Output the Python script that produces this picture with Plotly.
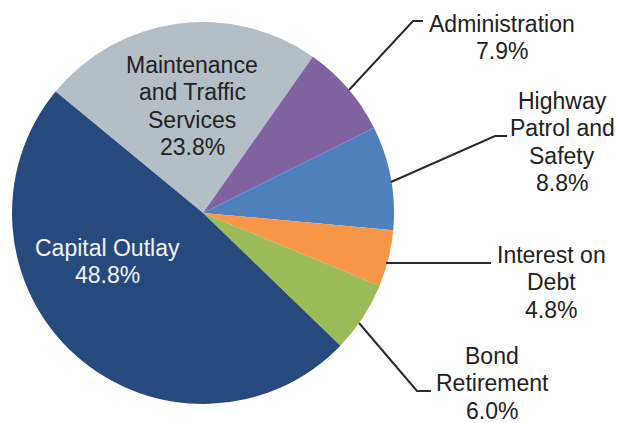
import plotly.graph_objects as go

W, H = 620, 423

categories = ["Maintenance and Traffic Services", "Administration", "Highway Patrol and Safety",
              "Interest on Debt", "Bond Retirement", "Capital Outlay"]
values = [23.8, 7.9, 8.8, 4.8, 6.0, 48.8]
label_lines = [
    ["Maintenance", "and Traffic", "Services", "23.8%"],
    ["Administration", "7.9%"],
    ["Highway", "Patrol and", "Safety", "8.8%"],
    ["Interest on", "Debt", "4.8%"],
    ["Bond", "Retirement", "6.0%"],
    ["Capital Outlay", "48.8%"],
]
colors = ["#B4BEC7", "#8064A2", "#4F81BD", "#F79646", "#9BBB59", "#264A7E"]
text_colors = ["#222222", "#222222", "#222222", "#222222", "#222222", "#F2F2F2"]

# label block layout: (center x px, first baseline px)
label_pos = [(192, 73), (502, 32), (562, 109), (551, 263), (492, 364), (107, 256)]
LINE_H = 27.3
FS = 23

# leader lines (pixel paths)
leaders = [
    None,
    [(349, 90), (413, 21), (423, 21)],
    [(391, 182), (495, 136), (507, 136)],
    [(386, 263), (491, 263)],
    [(359, 323), (417, 391), (431, 391)],
    None,
]

def px(x, y):
    return x / W, 1 - y / H

fig = go.Figure(go.Pie(
    labels=categories, values=values, sort=False, direction="clockwise",
    rotation=-50.5, marker=dict(colors=colors, line=dict(width=0)),
    textinfo="none", hoverinfo="label+percent",
    domain=dict(x=[12 / W, 394 / W], y=[1 - 404 / H, 1 - 22 / H]),
    showlegend=False,
))

annotations = []
for lines, (cx, by), tc in zip(label_lines, label_pos, text_colors):
    for i, t in enumerate(lines):
        x, y = px(cx, by + i * LINE_H - 8)
        annotations.append(dict(
            x=x, y=y, xref="paper", yref="paper", text=t, showarrow=False,
            xanchor="center", yanchor="middle",
            font=dict(family="Liberation Sans, Arial, sans-serif", size=FS, color=tc)))

shapes = []
for pts in leaders:
    if not pts:
        continue
    path = ""
    for j, (x, y) in enumerate(pts):
        X, Y = px(x, y)
        path += ("M" if j == 0 else "L") + f"{X:.5f},{Y:.5f} "
    shapes.append(dict(type="path", xref="paper", yref="paper", path=path.strip(),
                       line=dict(color="#2B2B2B", width=2)))

fig.update_layout(
    width=W, height=H, margin=dict(l=0, r=0, t=0, b=0),
    paper_bgcolor="white", plot_bgcolor="white",
    annotations=annotations, shapes=shapes,
)

fig.write_html("out.html", config={"displayModeBar": False},
               post_script="document.body.style.margin='0';document.body.style.overflow='hidden';")
